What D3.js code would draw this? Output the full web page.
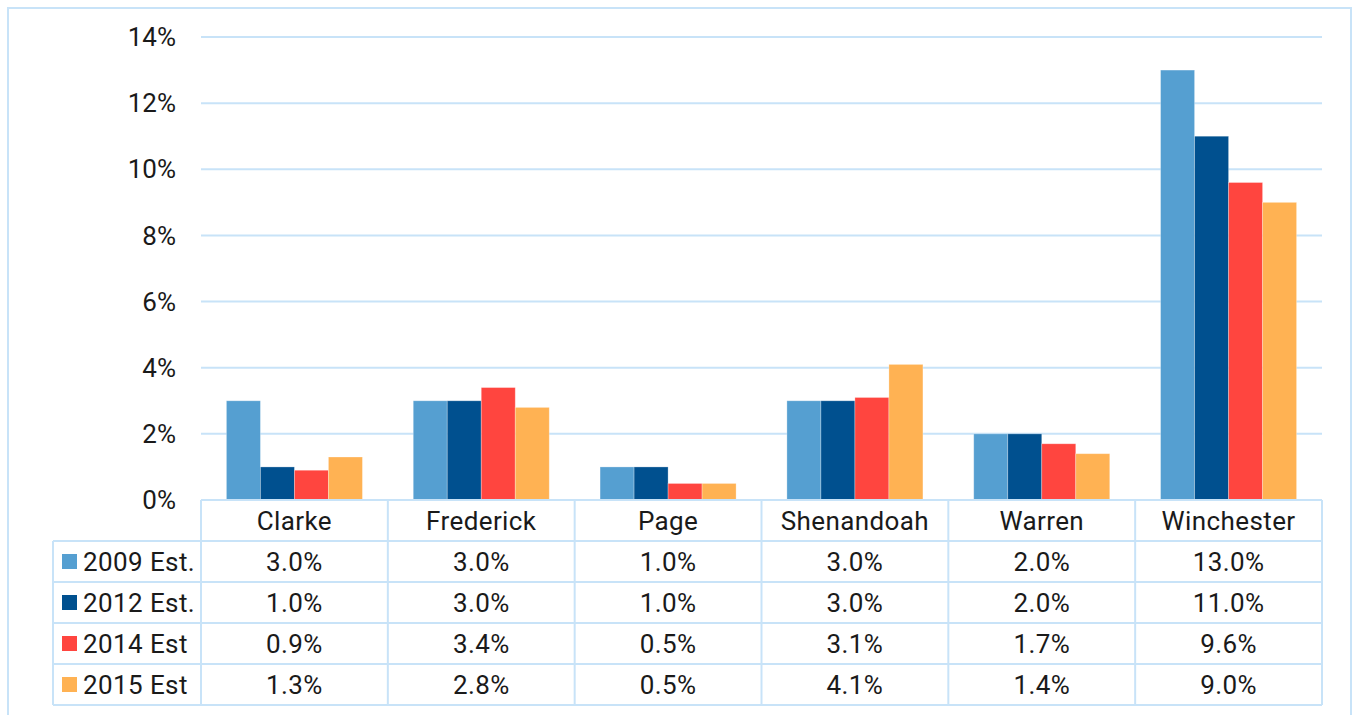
<!DOCTYPE html>
<html>
<head>
<meta charset="utf-8">
<script src="https://cdn.jsdelivr.net/npm/d3@7"></script>
<style>
  body { margin: 0; background: #fff; }
  svg { display: block; font-family: Roboto, sans-serif; }
</style>
</head>
<body>
<div id="chart"></div>
<script>
var w = 1353, h = 715;

// data
var counties = ["Clarke", "Frederick", "Page", "Shenandoah", "Warren", "Winchester"];
var seriesNames = ["2009 Est.", "2012 Est.", "2014 Est", "2015 Est"];
var est2009 = [3.0, 3.0, 1.0, 3.0, 2.0, 13.0];
var est2012 = [1.0, 3.0, 1.0, 3.0, 2.0, 11.0];
var est2014 = [0.9, 3.4, 0.5, 3.1, 1.7, 9.6];
var est2015 = [1.3, 2.8, 0.5, 4.1, 1.4, 9.0];
var yTicks = [0, 2, 4, 6, 8, 10, 12, 14];
var colors = ["#559fd1", "#00508f", "#ff453f", "#ffb253"];

var series = [est2009, est2012, est2014, est2015];
var lineColor = "#c8e3f8";

var plot = { left: 201, right: 1322, top: 37, bottom: 500 };
var rowH = 41;

var svg = d3.select("#chart").append("svg")
    .attr("width", w).attr("height", h);

// outer frame (bottom runs off the page)
svg.append("path")
    .attr("d", "M8,720 V8 H1351 V720")
    .attr("fill", "none").attr("stroke", lineColor).attr("stroke-width", 2);

var x0 = d3.scaleBand().domain(counties)
    .range([plot.left, plot.right])
    .paddingInner(0.272).paddingOuter(0.136);
var x1 = d3.scaleBand().domain(d3.range(seriesNames.length))
    .range([0, x0.bandwidth()]);
var y = d3.scaleLinear().domain([0, 14]).range([plot.bottom, plot.top]);

// gridlines
svg.append("g").selectAll("line").data(yTicks.filter(d => d > 0)).enter().append("line")
    .attr("x1", plot.left).attr("x2", plot.right)
    .attr("y1", d => y(d)).attr("y2", d => y(d))
    .attr("stroke", lineColor).attr("stroke-width", 2);

// y labels
svg.append("g").selectAll("text").data(yTicks).enter().append("text")
    .attr("x", 176).attr("y", d => y(d))
    .attr("dy", "0.35em")
    .attr("text-anchor", "end")
    .attr("font-size", "26px").attr("fill", "#1a1a1a")
    .text(d => d + "%");

// bars
var groups = svg.append("g").selectAll("g").data(counties).enter().append("g")
    .attr("transform", d => "translate(" + x0(d) + ",0)");

groups.selectAll("rect")
    .data((d, i) => series.map((s, j) => ({ s: j, v: s[i] })))
    .enter().append("rect")
    .attr("x", d => x1(d.s))
    .attr("width", x1.bandwidth())
    .attr("y", d => y(d.v))
    .attr("height", d => y(0) - y(d.v))
    .attr("fill", d => colors[d.s])
    .attr("stroke", "#ffffff").attr("stroke-opacity", 0.35).attr("stroke-width", 0.8);

// data table
var step = x0.step();
var table = svg.append("g")
    .attr("font-size", "26px").attr("letter-spacing", "0.4px").attr("fill", "#1a1a1a");
var tableLeft = 53;
var lastRow = plot.bottom + rowH * (seriesNames.length + 1);

// horizontal lines
table.append("line")
    .attr("x1", plot.left).attr("x2", plot.right)
    .attr("y1", plot.bottom).attr("y2", plot.bottom);
table.selectAll("line.row").data(d3.range(1, seriesNames.length + 2)).enter().append("line")
    .attr("class", "row")
    .attr("x1", tableLeft).attr("x2", plot.right)
    .attr("y1", d => plot.bottom + d * rowH).attr("y2", d => plot.bottom + d * rowH);
// vertical lines
table.append("line")
    .attr("x1", tableLeft).attr("x2", tableLeft)
    .attr("y1", plot.bottom + rowH).attr("y2", lastRow);
table.selectAll("line.col").data(d3.range(counties.length + 1)).enter().append("line")
    .attr("class", "col")
    .attr("x1", d => plot.left + d * step).attr("x2", d => plot.left + d * step)
    .attr("y1", plot.bottom).attr("y2", lastRow);
table.selectAll("line").attr("stroke", lineColor).attr("stroke-width", 2);

// header
table.selectAll("text.head").data(counties).enter().append("text")
    .attr("class", "head")
    .attr("x", d => x0(d) + x0.bandwidth() / 2)
    .attr("y", plot.bottom + rowH / 2)
    .attr("dy", "0.35em").attr("text-anchor", "middle")
    .text(d => d);

// series rows
var rows = table.selectAll("g.srow").data(seriesNames).enter().append("g")
    .attr("class", "srow")
    .attr("transform", (d, i) => "translate(0," + (plot.bottom + rowH * (i + 1)) + ")");

rows.append("rect")
    .attr("x", 62).attr("y", rowH / 2 - 7.5)
    .attr("width", 15).attr("height", 15)
    .attr("fill", (d, i) => colors[i]);

rows.append("text")
    .attr("x", 83).attr("y", rowH / 2).attr("dy", "0.35em")
    .text(d => d);

rows.selectAll("text.val")
    .data((d, i) => series[i].map((v, k) => ({ v: v, c: counties[k] })))
    .enter().append("text")
    .attr("class", "val")
    .attr("x", d => x0(d.c) + x0.bandwidth() / 2)
    .attr("y", rowH / 2).attr("dy", "0.35em")
    .attr("text-anchor", "middle")
    .text(d => d.v.toFixed(1) + "%");
</script>
</body>
</html>
